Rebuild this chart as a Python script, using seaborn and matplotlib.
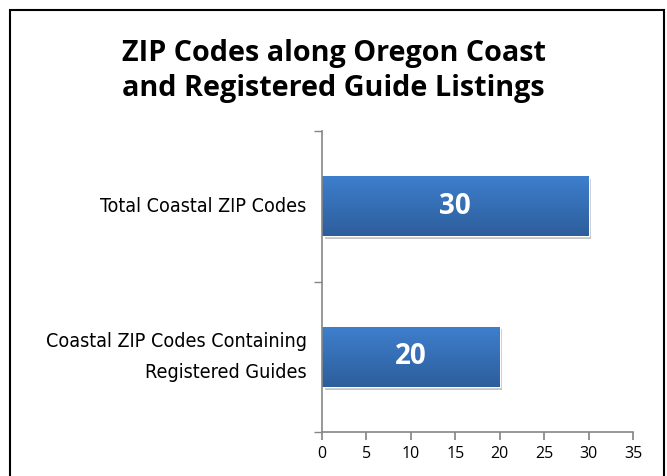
import numpy as np
import pandas as pd
import seaborn as sns
import matplotlib.pyplot as plt
import matplotlib.patheffects as pe
from matplotlib import font_manager
from matplotlib.colors import LinearSegmentedColormap
from matplotlib.patches import Rectangle

categories = ['Total Coastal ZIP Codes', 'Coastal ZIP Codes Containing\nRegistered Guides']
values = [30, 20]
xticks = [0, 5, 10, 15, 20, 25, 30, 35]
title = 'ZIP Codes along Oregon Coast\nand Registered Guide Listings'

sns.set_theme(style='white')
plt.rcParams['font.family'] = ['Lato', 'DejaVu Sans']
plt.rcParams['text.color'] = 'black'

# upright condensed face for the category labels, if one is installed
cond = [f for f in font_manager.fontManager.ttflist
        if f.name == 'DejaVu Sans' and 'Condensed' in f.fname and f.style == 'normal'
        and f.weight in (400, 'normal') and 'Oblique' not in f.fname and 'Bold' not in f.fname]
if cond:
    label_font = font_manager.FontProperties(fname=cond[0].fname, size=14.1)
else:
    label_font = font_manager.FontProperties(family='Lato', size=14.5)

df = pd.DataFrame({'category': categories, 'value': values})

fig = plt.figure(figsize=(6.67, 4.76), dpi=100)
ax = fig.add_axes([322/667, 1-432/476, 311/667, 301/476])

sns.barplot(data=df, x='value', y='category', orient='h', width=0.4,
            color='#3670B8', saturation=1, ax=ax)

# gradient fill + soft shadow like the spreadsheet bars
grad = LinearSegmentedColormap.from_list('bar', ['#3E7FCD', '#2D5E9C'])
for p in ax.patches:
    p.set_path_effects([pe.SimplePatchShadow(offset=(2, -2), alpha=0.25, shadow_rgbFace='k'),
                        pe.Normal()])
    x0, y0 = p.get_x(), p.get_y()
    w, h = p.get_width(), p.get_height()
    im = ax.imshow(np.linspace(0, 1, 100).reshape(-1, 1), cmap=grad, aspect='auto',
                   extent=(x0, x0 + w, y0 + h, y0), origin='upper', zorder=p.get_zorder() + 0.1)
    im.set_clip_path(p)

for p, v in zip(ax.patches, values):
    ax.text(p.get_x() + p.get_width() / 2, p.get_y() + p.get_height() / 2, str(v),
            ha='center', va='center', color='white', fontsize=20, fontweight='bold',
            family=['Open Sans', 'DejaVu Sans'], zorder=5)

ax.set_xlim(0, 35)
ax.set_ylim(1.5, -0.5)
ax.set_xticks(xticks)
ax.set_xticklabels([str(t) for t in xticks], fontsize=11.5, family=['Open Sans', 'DejaVu Sans'])
ax.set_yticks([0, 1])
ax.set_yticklabels(categories, fontproperties=label_font, ha='right', va='center', linespacing=1.8)
ax.set_yticks([-0.5, 0.5, 1.5], minor=True)
ax.tick_params(axis='y', which='major', length=0, pad=11, labelcolor='black')
ax.tick_params(axis='y', which='minor', length=6, color='#868686', direction='out', left=True)
ax.tick_params(axis='x', length=6, color='#868686', direction='out', bottom=True, pad=4, labelcolor='black')
ax.set_xlabel('')
ax.set_ylabel('')
for s in ['top', 'right']:
    ax.spines[s].set_visible(False)
for s in ['left', 'bottom']:
    ax.spines[s].set_color('#868686')
    ax.spines[s].set_linewidth(1.2)

fig.text(0.5, 1 - 71/476, title, ha='center', va='center', fontsize=20.7, fontweight='bold',
         linespacing=1.3, color='black', family=['Open Sans', 'DejaVu Sans'])

fig.patches.append(Rectangle((10/667, -0.05), 654/667, 1.05 - 10/476, transform=fig.transFigure,
                             fill=False, edgecolor='black', linewidth=1.5))

fig.savefig('out.png', dpi=100)
